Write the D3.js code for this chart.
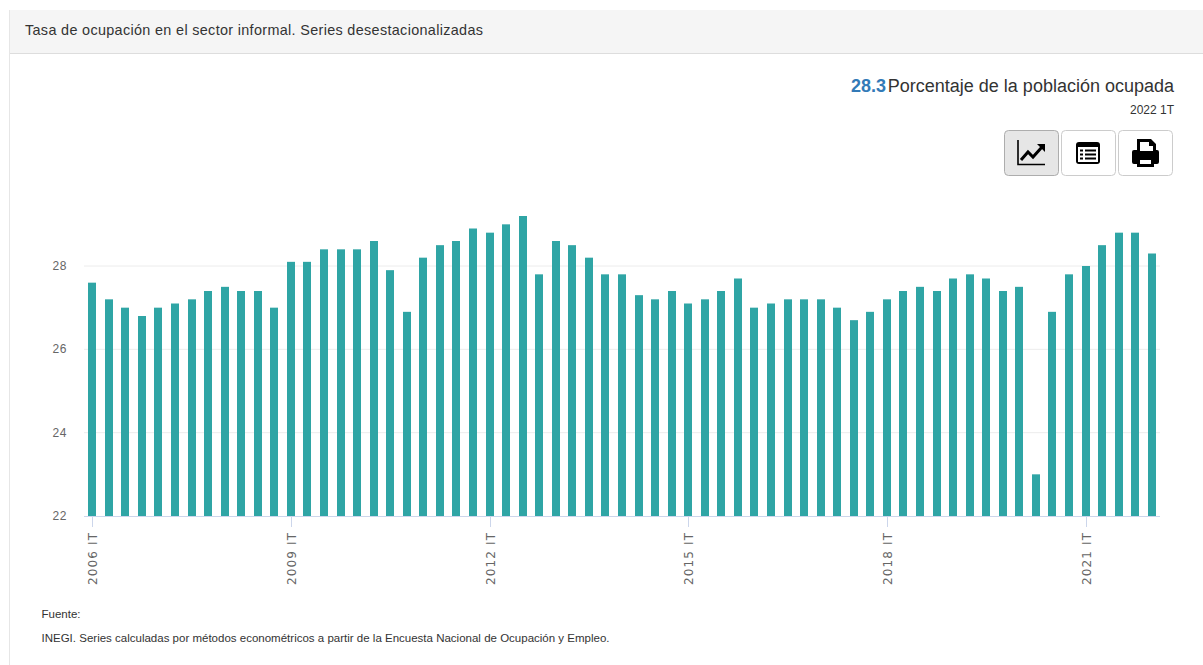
<!DOCTYPE html>
<html><head><meta charset="utf-8">
<script src="https://cdn.jsdelivr.net/npm/d3@7"></script>
<style>
html,body{margin:0;padding:0;background:#fff;}
svg{display:block;}
text{font-family:"Liberation Sans",Arial,sans-serif;}
</style></head>
<body><div id="chart"></div>
<script>
const years = d3.range(2006, 2023);
const quarters = ["IT","IIT","IIIT","IVT"];
const categories = years.flatMap(y => quarters.map(q => y + " " + q)).slice(0, 65);
const values = [
 27.6,27.2,27.0,26.8, 27.0,27.1,27.2,27.4, 27.5,27.4,27.4,27.0,
 28.1,28.1,28.4,28.4, 28.4,28.6,27.9,26.9, 28.2,28.5,28.6,28.9,
 28.8,29.0,29.2,27.8, 28.6,28.5,28.2,27.8, 27.8,27.3,27.2,27.4,
 27.1,27.2,27.4,27.7, 27.0,27.1,27.2,27.2, 27.2,27.0,26.7,26.9,
 27.2,27.4,27.5,27.4, 27.7,27.8,27.7,27.4, 27.5,23.0,26.9,27.8,
 28.0,28.5,28.8,28.8, 28.3];
const yTicks = [22,24,26,28];
const xTickLabels = ["2006 IT","2009 IT","2012 IT","2015 IT","2018 IT","2021 IT"];
const titleText = "Tasa de ocupación en el sector informal. Series desestacionalizadas";
const latestValue = "28.3";
const unitText = "Porcentaje de la población ocupada";
const periodText = "2022 1T";
const sourceLabel = "Fuente:";
const sourceText = "INEGI. Series calculadas por métodos econométricos a partir de la Encuesta Nacional de Ocupación y Empleo.";

const W = 1203, H = 665;
const svg = d3.select("#chart").append("svg").attr("width", W).attr("height", H);

// panel
svg.append("rect").attr("x",9).attr("y",10).attr("width",W-9).attr("height",43.5).attr("fill","#f5f5f5");
svg.append("line").attr("x1",9).attr("x2",W).attr("y1",53.5).attr("y2",53.5).attr("stroke","#dddddd");
svg.append("line").attr("x1",9.5).attr("x2",9.5).attr("y1",10).attr("y2",H).attr("stroke","#e6e6e6");
svg.append("text").attr("x",25).attr("y",34.5).attr("font-size",14.4).attr("fill","#333").attr("textLength",458).text(titleText);

// heading
svg.append("text").attr("x",886).attr("y",91.5).attr("text-anchor","end").attr("font-size",18).attr("font-weight","bold").attr("fill","#337ab7").text(latestValue);
svg.append("text").attr("x",1174).attr("y",91.5).attr("text-anchor","end").attr("font-size",18).attr("fill","#333").text(unitText);
svg.append("text").attr("x",1174).attr("y",114).attr("text-anchor","end").attr("font-size",12).attr("fill","#333").text(periodText);

// buttons
const btn = svg.append("g");
[[1004.5,"#e6e6e6","#adadad"],[1061.5,"#fff","#ccc"],[1118.5,"#fff","#ccc"]].forEach(([x,f,s])=>{
  btn.append("rect").attr("x",x).attr("y",130.5).attr("width",54).attr("height",45).attr("rx",4).attr("fill",f).attr("stroke",s);
});
// chart icon
btn.append("path").attr("d","M1018 140V164.5H1045").attr("fill","none").attr("stroke","#000").attr("stroke-width",1.6);
btn.append("path").attr("d","M1021 160L1028 152L1033 157L1042 147").attr("fill","none").attr("stroke","#000").attr("stroke-width",3);
btn.append("path").attr("d","M1037 144H1045V152Z").attr("fill","#000");
// table icon
btn.append("rect").attr("x",1076).attr("y",142).attr("width",24).attr("height",22).attr("rx",3).attr("fill","#000");
btn.append("rect").attr("x",1078).attr("y",147).attr("width",20).attr("height",15).attr("fill","#fff");
[149.5,153.5,157.5].forEach(y=>{
  btn.append("rect").attr("x",1080).attr("y",y).attr("width",3).attr("height",2).attr("fill","#000");
  btn.append("rect").attr("x",1085).attr("y",y).attr("width",11).attr("height",2).attr("fill","#000");
});
// print icon
btn.append("path").attr("fill","#000").attr("fill-rule","evenodd")
  .attr("d","M1137 139H1151L1156 144V150H1157Q1159 150 1159 152V162Q1159 164 1157 164H1154V167H1137V164H1134Q1132 164 1132 162V152Q1132 150 1134 150H1137ZM1140 142V151H1153V146H1149V142ZM1140 160V164H1151V160Z");

// scales
const x = d3.scaleBand().domain(categories).range([84,1160]).paddingInner(0.5).paddingOuter(0.25);
const y = d3.scaleLinear().domain([22,28]).range([516,266]);
const cx = c => x(c) + x.bandwidth()/2;

// grid
svg.append("g").selectAll("line").data(yTicks.slice(1)).join("line")
  .attr("x1",84).attr("x2",1160).attr("y1",d=>y(d)).attr("y2",d=>y(d))
  .attr("stroke","#ececec").attr("stroke-width",1);

// y axis
svg.append("g").selectAll("text").data(yTicks).join("text")
  .attr("x",67).attr("y",d=>y(d)+4).attr("text-anchor","end")
  .attr("font-size",12).attr("letter-spacing",0.6).attr("fill","#666").text(d=>d);

// bars
const barW = 8;
svg.append("g").selectAll("rect").data(categories).join("rect")
  .attr("x",c=>Math.round(cx(c)-barW/2))
  .attr("width",barW)
  .attr("y",(c,i)=>y(values[i]))
  .attr("height",(c,i)=>y(22)-y(values[i]))
  .attr("fill","#2fa5a5");

// x axis
svg.append("line").attr("x1",84).attr("x2",1160).attr("y1",516.5).attr("y2",516.5).attr("stroke","#ccd6eb");
const tickCats = xTickLabels;
const xt = svg.append("g").selectAll("g").data(tickCats).join("g")
  .attr("transform",d=>`translate(${Math.round(cx(d))},0)`);
xt.append("line").attr("x1",0.5).attr("x2",0.5).attr("y1",517).attr("y2",527).attr("stroke","#ccd6eb");
xt.append("text").attr("transform","translate(4.5,585) rotate(-90)")
  .attr("font-size",12).attr("letter-spacing",0.9).attr("fill","#666")
  .attr("style",'font-family:"DejaVu Sans"').attr("textLength",53).text(d=>d);

// source
svg.append("text").attr("x",41.5).attr("y",618).attr("font-size",11.5).attr("fill","#333").text(sourceLabel);
svg.append("text").attr("x",41.5).attr("y",642).attr("font-size",11.5).attr("fill","#333").attr("textLength",568).text(sourceText);
</script></body></html>
